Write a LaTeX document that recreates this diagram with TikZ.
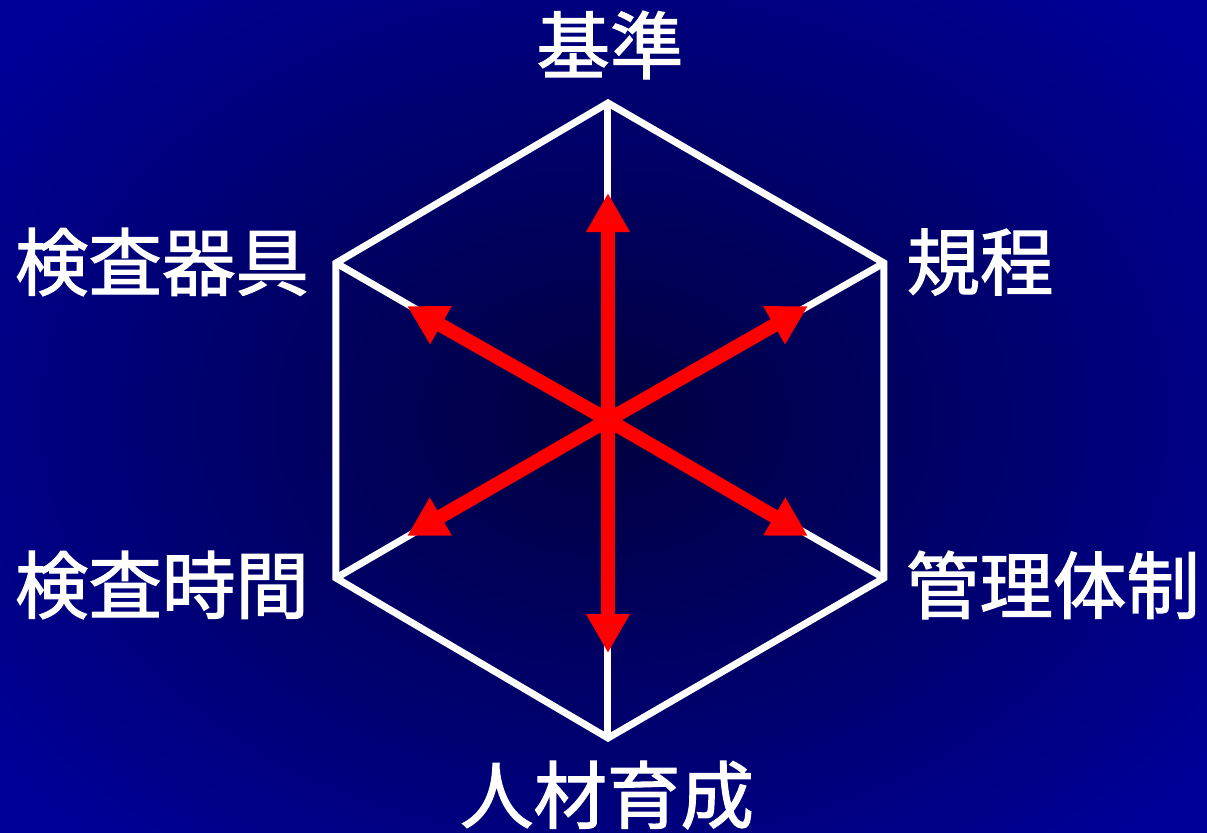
\documentclass[tikz,border=0pt]{standalone}
\usepackage{fontspec}
\newfontfamily\jpfont[FakeBold=1.6]{Noto Sans CJK JP}
\usetikzlibrary{arrows.meta}
\definecolor{bgin}{RGB}{0,0,62}
\definecolor{bgout}{RGB}{0,0,150}
\definecolor{arrred}{RGB}{255,0,0}
\tikzset{
  hexline/.style={draw=white, line width=0.7mm, line join=miter},
  spoke/.style={draw=white, line width=0.7mm},
  redarrow/.style={draw=arrred, line width=1.4mm, -{Triangle[length=3.9mm,width=4.1mm]}},
  lbl/.style={text=white, inner sep=0pt, font=\jpfont\fontsize{20.9pt}{24pt}\selectfont}
}
\begin{document}
\begin{tikzpicture}[x=0.1mm,y=-0.1mm]
\useasboundingbox (0,0) rectangle (1207,833);
\shade[inner color=bgin, outer color=bgout] (-150,-150) rectangle (1357,983);
\clip (0,0) rectangle (1207,833);
% vertices
\coordinate (c) at (608,420);
\coordinate (t) at (608,103);
\coordinate (ur) at (884,263);
\coordinate (lr) at (884,578);
\coordinate (b) at (608,738);
\coordinate (ll) at (336,578);
\coordinate (ul) at (336,263);
% hexagon
\draw[hexline] (t) -- (ur) -- (lr) -- (b) -- (ll) -- (ul) -- cycle;
\foreach \v in {t,ur,lr,b,ll,ul} \draw[spoke] (c) -- (\v);
% red arrows
\coordinate (at) at (608,193);
\coordinate (ab) at (608,653);
\coordinate (aur) at (808,306);
\coordinate (alr) at (808,536);
\coordinate (all) at (407,536);
\coordinate (aul) at (407,306);
\foreach \a in {at,ab,aur,alr,all,aul} \draw[redarrow] (c) -- (\a);
% labels
\node[lbl] (n1) at (610,45) {基準};
\node[lbl] (n2) at (980,262) {規程};
\node[lbl] (n3) at (162,262) {検査器具};
\node[lbl] (n4) at (162,585) {検査時間};
\node[lbl] (n5) at (1053,585) {管理体制};
\node[lbl] (n6) at (607,795) {人材育成};
\end{tikzpicture}
\end{document}
